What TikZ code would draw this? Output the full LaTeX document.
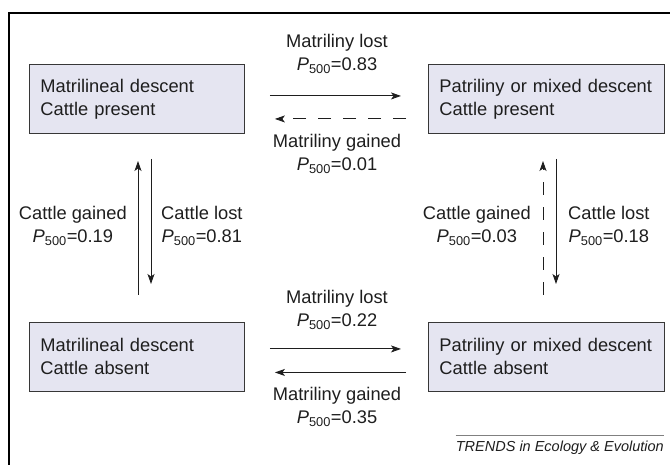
\documentclass[tikz,border=0pt]{standalone}
\usepackage{fontspec}
\setmainfont{Liberation Sans}
\usetikzlibrary{arrows.meta,calc}
\definecolor{boxfill}{RGB}{229,229,241}
\definecolor{boxline}{RGB}{55,55,55}
\definecolor{inkc}{RGB}{30,30,30}
\newcommand{\pfive}[1]{\textit{P}\textsubscript{500}=#1}
\begin{document}
\begin{tikzpicture}[x=1pt,y=-1pt,
  statebox/.style={draw=boxline,fill=boxfill,line width=0.9pt,anchor=north west,
    minimum height=69pt,inner xsep=11pt,inner ysep=0pt,align=left,
    font=\fontsize{18.3}{23}\selectfont,text=inkc},
  lbl/.style={align=center,font=\fontsize{18.3}{23}\selectfont,text=inkc,inner sep=0pt},
  arr/.style={draw=inkc,line width=0.9pt,-{Stealth[length=10pt,width=7pt,inset=2.5pt]}},
  dsh/.style={dash pattern=on 13pt off 12pt}]
\useasboundingbox (0,0) rectangle (670,465);
% frame
\draw[line width=2pt] (9,465) -- (9,13) -- (670,13);
% boxes
\node[statebox,text width=193pt] (tl) at (29,64) {Matrilineal descent\\Cattle present};
\node[statebox,text width=214pt] (tr) at (428,64) {Patriliny or mixed descent\\Cattle present};
\node[statebox,text width=193pt] (bl) at (29,322) {Matrilineal descent\\Cattle absent};
\node[statebox,text width=214pt] (br) at (428,322) {Patriliny or mixed descent\\Cattle absent};
% top horizontal (box centres at y=98.5)
\draw[arr] ([shift={(25,-3)}]tl.east) -- ([shift={(-27,-3)}]tr.west);
\draw[arr,dsh] ([shift={(-22,20)}]tr.west) -- ([shift={(30,20)}]tl.east);
\node[lbl] (t1) at (337,43) {Matriliny lost};
\node[lbl] (t2) at (337,66) {\pfive{0.83}};
\node[lbl] (t3) at (337,143) {Matriliny gained};
\node[lbl] (t4) at (337,166) {\pfive{0.01}};
% bottom horizontal (box centres at y=356.5)
\draw[arr] ([shift={(25,-8)}]bl.east) -- ([shift={(-27,-8)}]br.west);
\draw[arr] ([shift={(-22,15.5)}]br.west) -- ([shift={(30,15.5)}]bl.east);
\node[lbl] (b1) at (337,299) {Matriliny lost};
\node[lbl] (b2) at (337,322) {\pfive{0.22}};
\node[lbl] (b3) at (337,396) {Matriliny gained};
\node[lbl] (b4) at (337,419) {\pfive{0.35}};
% left vertical
\coordinate (lua) at (138,295);
\coordinate (lub) at (138,161);
\coordinate (lda) at (151,159);
\coordinate (ldb) at (151,284);
\draw[arr] (lua) -- (lub);
\draw[arr] (lda) -- (ldb);
\node[lbl,anchor=east] (l1) at (127,226) {Cattle gained\\\pfive{0.19}};
\node[lbl,anchor=west] (l2) at (161,226) {Cattle lost\\\pfive{0.81}};
% right vertical
\coordinate (rua) at (543,295);
\coordinate (rub) at (543,161);
\coordinate (rda) at (556,159);
\coordinate (rdb) at (556,284);
\draw[arr,dsh] (rua) -- (rub);
\draw[arr] (rda) -- (rdb);
\node[lbl,anchor=east] (r1) at (531,226) {Cattle gained\\\pfive{0.03}};
\node[lbl,anchor=west] (r2) at (568,226) {Cattle lost\\\pfive{0.18}};
% credit
\node[anchor=base east,inner sep=0pt,font=\fontsize{14.5}{17}\itshape,text=inkc] (cr) at (664,451) {TRENDS in Ecology \& Evolution};
\draw[line width=0.7pt,draw=gray] ([yshift=5pt]cr.north west) -- ([yshift=5pt]cr.north east);
\end{tikzpicture}
\end{document}
